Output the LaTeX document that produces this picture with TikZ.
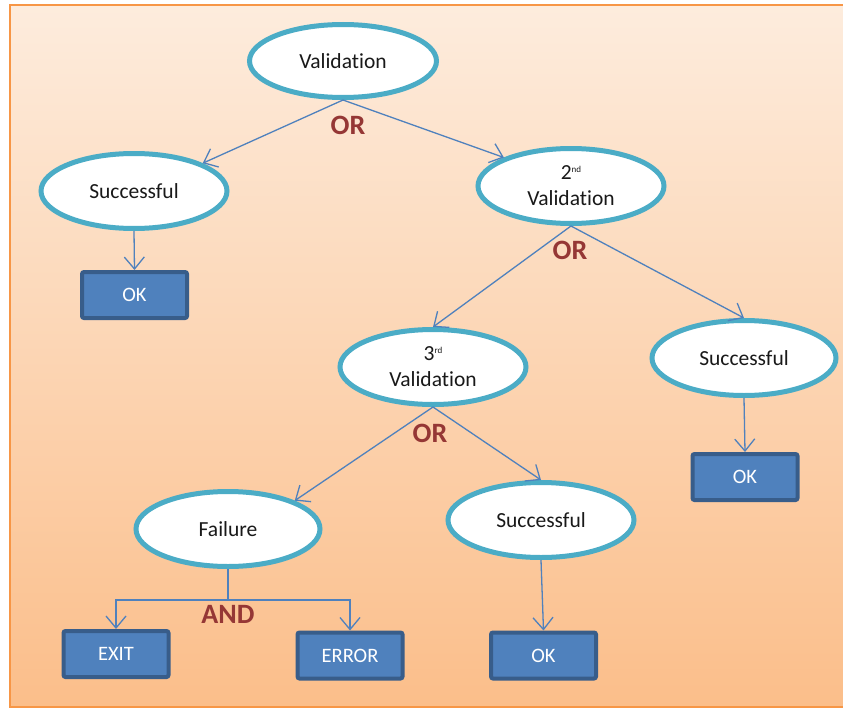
\documentclass[tikz,border=0pt]{standalone}
\usepackage{fontspec}
\setmainfont{Carlito}[Ligatures={NoCommon}]
\usetikzlibrary{shapes.geometric,arrows.meta}
\definecolor{bgtop}{RGB}{253,236,221}
\definecolor{bgbot}{RGB}{251,190,138}
\definecolor{bgedge}{RGB}{247,150,70}
\definecolor{ellc}{RGB}{75,172,198}
\definecolor{boxf}{RGB}{79,129,189}
\definecolor{boxd}{RGB}{56,93,138}
\definecolor{lineb}{RGB}{79,129,189}
\definecolor{lblc}{RGB}{149,55,53}
\newcommand{\mysup}[1]{\raisebox{7pt}{\fontsize{9}{9}\selectfont #1}}
\begin{document}
\begin{tikzpicture}[x=1pt,y=-1pt,
  ell/.style={ellipse, draw=ellc, line width=5pt, fill=white, inner sep=0pt,
    text=black!90, font=\fontsize{21.5}{26}\selectfont, align=center,
    minimum width=186pt, minimum height=75pt},
  box/.style={rectangle, rounded corners=2pt, draw=boxd, line width=4pt, fill=boxf,
    text=white, font=\fontsize{20.5}{22}\selectfont, inner sep=0pt,
    minimum width=105pt, minimum height=46pt},
  arr/.style={draw=lineb, line width=1.3pt, -{Straight Barb[length=12pt,width=20pt,line width=1.3pt]}},
  lbl/.style={text=lblc, font=\bfseries\fontsize{28}{30}\selectfont, inner sep=0pt}]
\useasboundingbox (0,0) rectangle (843,709);
\shade[top color=bgtop, bottom color=bgbot] (10,5) rectangle (845,707);
\draw[bgedge, line width=2pt] (845,5) -- (10,5) -- (10,707) -- (845,707);

\node[ell, minimum width=187pt, minimum height=73pt] (val) at (343,61) {Validation};
\node[ell] (s1) at (134,191) {Successful};
\node[ell] (v2) at (571,186) {2\mysup{nd}\\Validation};
\node[ell] (v3) at (433,367) {3\mysup{rd}\\Validation};
\node[ell, minimum width=184pt] (s2) at (744,358) {Successful};
\node[ell, minimum width=184pt] (fail) at (228,529) {Failure};
\node[ell] (s3) at (541,520) {Successful};

\node[box] (ok1) at (134.5,295) {OK};
\node[box] (ok2) at (745,477) {OK};
\node[box] (ok3) at (543.5,655.5) {OK};
\node[box] (exit) at (116,654) {EXIT};
\node[box] (err) at (350,655.5) {ERROR};

\draw[arr] (val.south) -- (s1.22);
\draw[arr] (val.south) -- (v2.157);
\draw[arr] (v2.south) -- (v3.north);
\draw[arr] (v2.south) -- (s2.north);
\draw[arr] (v3.south) -- (fail.23);
\draw[arr] (v3.south) -- (s3.north);
\draw[arr] (s1.south) -- (ok1.north);
\draw[arr] (s2.south) -- (ok2.north);
\draw[arr] (s3.south) -- (ok3.north);
\draw[arr] (fail.south) -- ++(0,31) -| (exit.north);
\draw[arr] (fail.south) -- ++(0,31) -| (err.north);

\node[lbl] (or1) at (348,125) {OR};
\node[lbl] (or2) at (570,250) {OR};
\node[lbl] (or3) at (430,433) {OR};
\node[lbl] (and) at (228,614) {AND};
\end{tikzpicture}
\end{document}
